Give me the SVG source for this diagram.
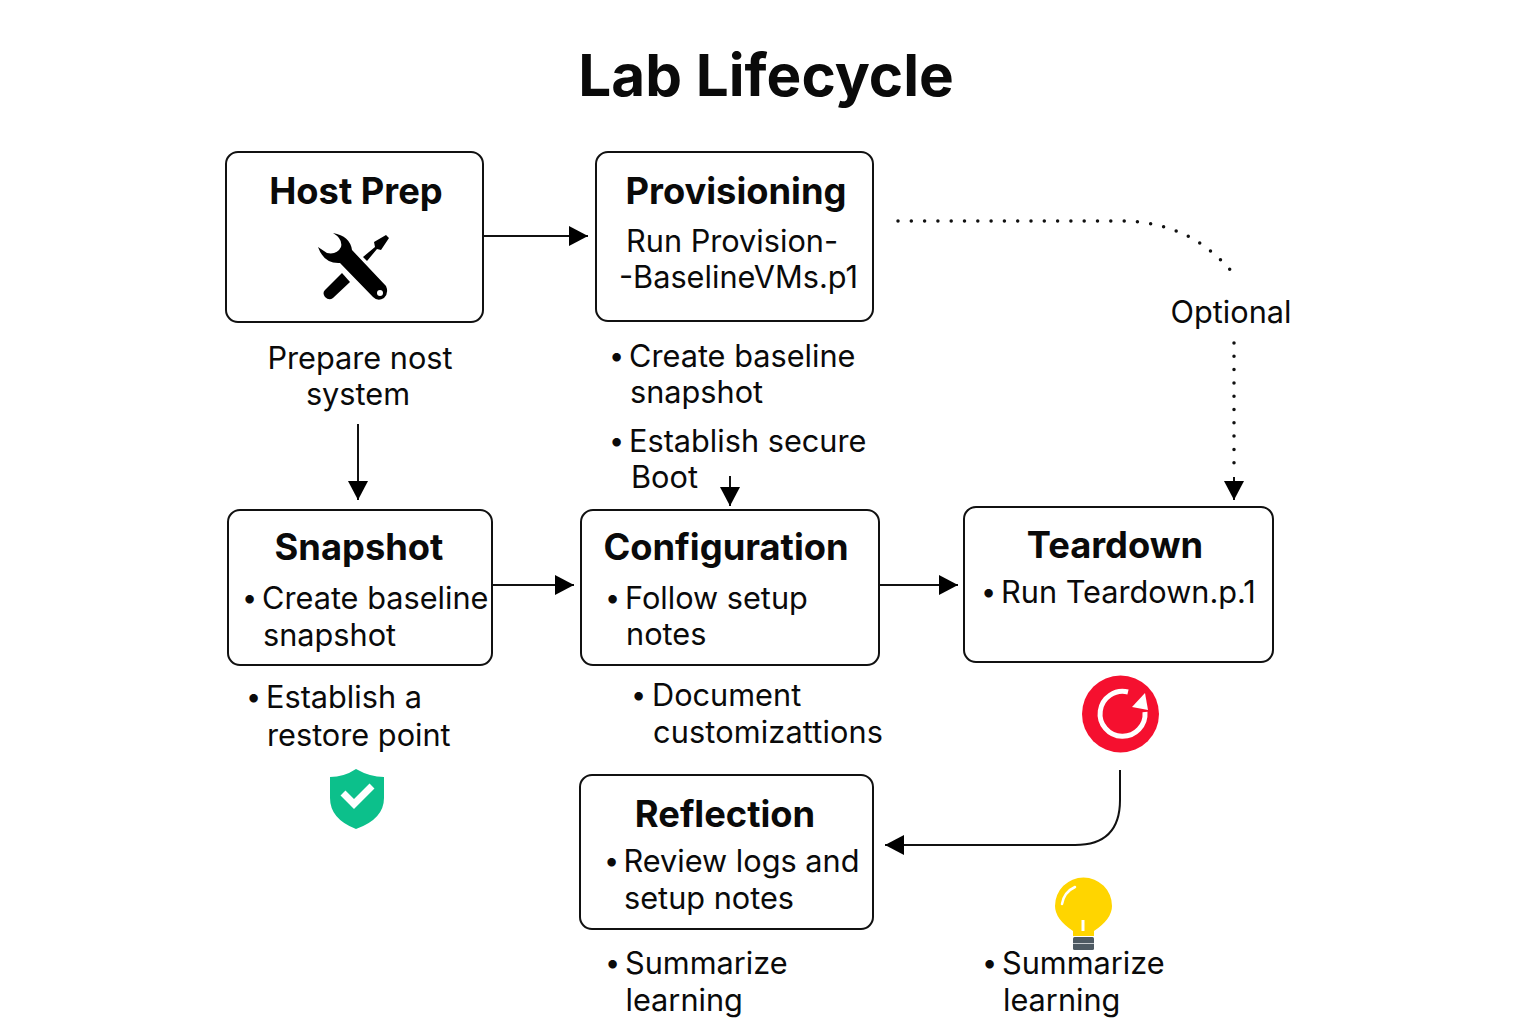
<svg xmlns="http://www.w3.org/2000/svg" width="1536" height="1024" viewBox="0 0 1536 1024">
<style>
text{font-family:Inter,"Liberation Sans",sans-serif;fill:#0a0a0a}
.t{font-size:58.400px;font-weight:700;text-anchor:middle}
.h{font-size:36.300px;font-weight:700;text-anchor:middle}
.b{font-size:30.700px;font-weight:400}
.u{font-size:27px;font-weight:400}
.m{text-anchor:middle}
.box{fill:#fff;stroke:#111;stroke-width:2}
.c{fill:none;stroke:#111;stroke-width:2}
.d{fill:none;stroke:#111;stroke-width:3.500;stroke-linecap:round;stroke-dasharray:0 13.300}
</style>
<defs>
<marker id="a" markerUnits="userSpaceOnUse" markerWidth="20" markerHeight="22" refX="19" refY="10" orient="auto"><path d="M0 0L19 10L0 20Z" fill="#000"/></marker>
</defs>
<rect width="1536" height="1024" fill="#fff"/>
<text class="t" x="766" y="96">Lab Lifecycle</text>
<g id="connectors">
<path class="c" marker-end="url(#a)" d="M484 236H588"/>
<path class="c" marker-end="url(#a)" d="M358 424V500"/>
<path class="c" marker-end="url(#a)" d="M730 476V506"/>
<path class="c" marker-end="url(#a)" d="M493 585H574"/>
<path class="c" marker-end="url(#a)" d="M880 585H958"/>
<path class="c" marker-end="url(#a)" d="M1120 770V800Q1120 845 1075 845H885"/>
<path class="d" d="M898 221H1120C1170 221 1205 240 1233 273"/>
<path class="d" d="M1234 343V473"/>
<path class="c" marker-end="url(#a)" d="M1234 477V500"/>
</g>
<g id="host-prep">
<rect class="box" x="226" y="152" width="257" height="170" rx="12"/>
<text class="h" x="356" y="204">Host Prep</text>
<g id="tools-icon" fill="#000">
<path d="M363 257L375 247L374 242L386 235L389 238L381 250L377 249L367 261Z"/>
<path d="M342 273L350 282L333 298Q329 301 325 297Q322 293 325 290Z"/>
<path d="M333 233Q350 236 352 250L386 286Q389 293 384 298Q378 302 373 297L340 263Q324 264 318 247L327 253Q337 255 341 247Q343 239 333 233Z"/>
<circle cx="380" cy="293" r="3" fill="#fff"/>
</g>
<text class="b m" x="360" y="369">Prepare nost</text>
<text class="b m" x="358" y="405">system</text>
</g>
<g id="provisioning">
<rect class="box" x="596" y="152" width="277" height="169" rx="12"/>
<text class="h" x="736" y="204">Provisioning</text>
<text class="b" x="626" y="252">Run Provision-</text>
<text class="b" x="619" y="288">-BaselineVMs.p1</text>
<text class="b" y="367"><tspan class="u" x="609" dy="-2">•</tspan><tspan x="629" dy="2">Create baseline</tspan></text>
<text class="b" x="630" y="403">snapshot</text>
<text class="b" y="452"><tspan class="u" x="609" dy="-2">•</tspan><tspan x="629" dy="2">Establish secure</tspan></text>
<text class="b" x="631" y="488">Boot</text>
</g>
<g id="snapshot">
<rect class="box" x="228" y="510" width="264" height="155" rx="12"/>
<text class="h" x="359" y="560">Snapshot</text>
<text class="b" y="609"><tspan class="u" x="242" dy="-2">•</tspan><tspan x="262" dy="2">Create baseline</tspan></text>
<text class="b" x="263" y="646">snapshot</text>
<text class="b" y="708"><tspan class="u" x="246" dy="-2">•</tspan><tspan x="266" dy="2">Establish a</tspan></text>
<text class="b" x="267" y="746">restore point</text>
<g id="shield-icon">
<path d="M356 769Q370 777 384 777V798Q384 819 356 829Q330 819 330 798V777Q344 777 356 769Z" fill="#0cc08b"/>
<path d="M343 793L354 804L372 786" fill="none" stroke="#fff" stroke-width="7"/>
</g>
</g>
<g id="configuration">
<rect class="box" x="581" y="510" width="298" height="155" rx="12"/>
<text class="h" x="726" y="560">Configuration</text>
<text class="b" y="609"><tspan class="u" x="605" dy="-2">•</tspan><tspan x="625" dy="2">Follow setup</tspan></text>
<text class="b" x="626" y="645">notes</text>
<text class="b" y="706"><tspan class="u" x="631" dy="-2">•</tspan><tspan x="652" dy="2">Document</tspan></text>
<text class="b" x="653" y="743" textLength="230">customizattions</text>
</g>
<g id="teardown">
<rect class="box" x="964" y="507" width="309" height="155" rx="12"/>
<text class="h" x="1115" y="558">Teardown</text>
<text class="b" y="603"><tspan class="u" x="981" dy="-2">•</tspan><tspan x="1001" dy="2">Run Teardown.p.1</tspan></text>
<g id="restart-icon">
<circle cx="1120.500" cy="714" r="38.500" fill="#f5102f"/>
<path d="M1145 712A22.500 22.500 0 1 1 1128 692" fill="none" stroke="#fff" stroke-width="5"/>
<path d="M1145 693L1148 710L1132 707Z" fill="#fff"/>
</g>
<text class="b" y="974"><tspan class="u" x="982" dy="-2">•</tspan><tspan x="1002" dy="2">Summarize</tspan></text>
<text class="b" x="1003" y="1011">learning</text>
<g id="bulb-icon">
<path d="M1073 936V931Q1055 919 1055 906A28.500 28.500 0 0 1 1112 906Q1112 919 1094 931V936Z" fill="#ffd500"/>
<path d="M1062 904Q1064 892 1075 887" fill="none" stroke="#fff" stroke-width="2.500" stroke-linecap="round"/>
<path d="M1083 920V931" stroke="#fff" stroke-width="3"/>
<rect x="1073" y="937" width="21" height="13" rx="1.500" fill="#4e5a63"/>
<path d="M1073 943.500H1094" stroke="#c8ccd0" stroke-width="1"/>
</g>
</g>
<g id="reflection">
<rect class="box" x="580" y="775" width="293" height="154" rx="12"/>
<text class="h" x="725" y="827">Reflection</text>
<text class="b" y="872"><tspan class="u" x="604" dy="-2">•</tspan><tspan x="623.500" dy="2">Review logs and</tspan></text>
<text class="b" x="624" y="909">setup notes</text>
<text class="b" y="974"><tspan class="u" x="605" dy="-2">•</tspan><tspan x="625" dy="2">Summarize</tspan></text>
<text class="b" x="625.500" y="1011">learning</text>
</g>
<text class="b m" x="1231" y="323">Optional</text>
</svg>
